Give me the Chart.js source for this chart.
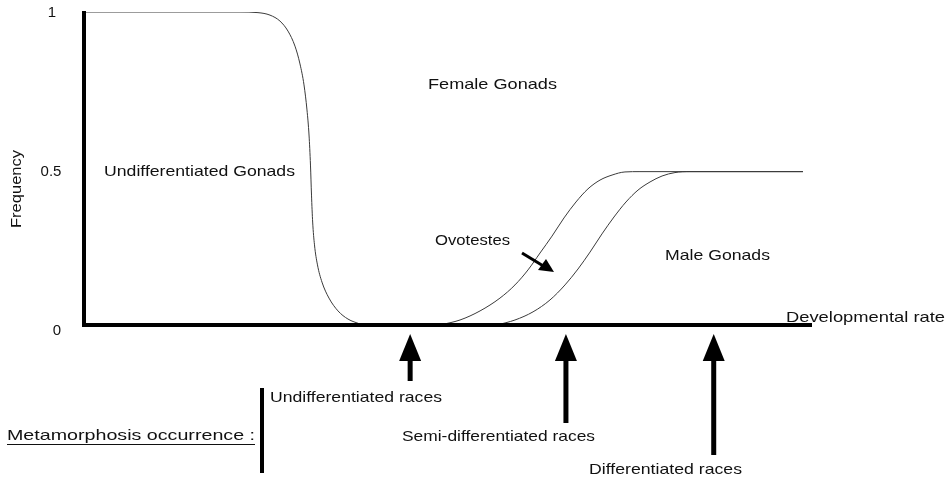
<!DOCTYPE html>
<html>
<head>
<meta charset="utf-8">
<script src="https://cdn.jsdelivr.net/npm/chart.js@4.4.1/dist/chart.umd.min.js"></script>
<style>
  html, body { margin: 0; padding: 0; background: #fff; }
  #wrap { width: 949px; height: 484px; }
</style>
</head>
<body>
<div id="wrap"><canvas id="chart" width="949" height="484"></canvas></div>
<script>
// developmental rate (0-100) and frequency values
const undiffX = [0, 21.43, 23.90, 25.55, 26.92, 28.02, 28.98, 29.67, 30.22, 30.63, 30.91, 31.11, 31.25, 31.41, 31.66, 32.07, 32.69, 33.65, 34.89, 36.26, 37.91];
const undiffY = [1, 1, 0.998, 0.990, 0.971, 0.939, 0.891, 0.834, 0.767, 0.687, 0.607, 0.511, 0.415, 0.329, 0.256, 0.192, 0.137, 0.086, 0.045, 0.019, 0.003];

const femaleX = [48.90, 51.65, 54.40, 57.14, 59.20, 60.99, 62.64, 64.29, 65.93, 67.58, 69.23, 70.88, 72.53, 74.31, 76.37, 98.76];
const femaleY = [0, 0.016, 0.045, 0.086, 0.128, 0.176, 0.230, 0.284, 0.342, 0.393, 0.435, 0.463, 0.479, 0.489, 0.490, 0.490];

const maleX = [56.73, 59.20, 61.68, 64.01, 66.07, 67.86, 69.51, 71.15, 72.80, 74.45, 76.10, 77.75, 79.40, 81.18, 83.24, 98.76];
const maleY = [0, 0.016, 0.042, 0.080, 0.128, 0.179, 0.233, 0.291, 0.345, 0.393, 0.431, 0.457, 0.476, 0.487, 0.490, 0.490];

const yTicks = [0, 0.5, 1];
const yTickLabels = ['0', '0.5', '1'];

const raceRates = [44.8, 66.2, 86.5];
const raceLabels = ['Undifferentiated races', 'Semi-differentiated races', 'Differentiated races'];

const toPoints = (xs, ys) => xs.map((x, i) => ({ x: x, y: ys[i] }));

const FONT = '15px "Liberation Sans", Arial, sans-serif';

// draw text stretched to the width it has in the picture
function label(ctx, text, x, y, width) {
  const w = ctx.measureText(text).width;
  ctx.save();
  ctx.translate(x, y);
  ctx.scale(width ? width / w : 1, 1);
  ctx.fillText(text, 0, 0);
  ctx.restore();
}

const annotations = {
  id: 'annotations',
  afterDatasetsDraw(chart) {
    const ctx = chart.ctx;
    const xs = chart.scales.x;
    const ys = chart.scales.y;
    const x0 = xs.getPixelForValue(0);
    const y0 = ys.getPixelForValue(0);
    const y1 = ys.getPixelForValue(1);
    ctx.save();

    // axes
    ctx.fillStyle = '#000';
    ctx.fillRect(x0 - 2, y1 - 1, 4, y0 - y1 + 3);
    ctx.fillRect(x0 - 2, y0 - 2, xs.getPixelForValue(100) - x0 + 2, 4);

    ctx.font = FONT;
    ctx.fillStyle = '#111';
    ctx.textBaseline = 'middle';
    ctx.textAlign = 'center';
    const tickX = [57, 51, 52];
    yTicks.forEach((v, i) => {
      ctx.fillText(yTickLabels[i], tickX[i], ys.getPixelForValue(v) + 6 - 5 * v);
    });

    // y title
    ctx.save();
    ctx.translate(17, 189);
    ctx.rotate(-Math.PI / 2);
    ctx.textAlign = 'left';
    label(ctx, 'Frequency', -39, 0, 78);
    ctx.restore();

    ctx.textAlign = 'left';
    label(ctx, 'Developmental rate', 786, 318, 159);
    label(ctx, 'Undifferentiated Gonads', 104, 172, 191);
    label(ctx, 'Female Gonads', 428, 85, 129);
    label(ctx, 'Ovotestes', 435, 241, 75);
    label(ctx, 'Male Gonads', 665, 256, 105);

    // ovotestes arrow
    ctx.fillStyle = '#000';
    ctx.strokeStyle = '#000';
    ctx.lineWidth = 3;
    ctx.beginPath();
    ctx.moveTo(522, 253);
    ctx.lineTo(545, 267);
    ctx.stroke();
    ctx.beginPath();
    ctx.moveTo(554, 272);
    ctx.lineTo(538, 270);
    ctx.lineTo(546, 259);
    ctx.closePath();
    ctx.fill();

    // race arrows
    const shaftEnd = [381, 423, 455];
    raceRates.forEach((r, i) => {
      const px = xs.getPixelForValue(r);
      const tip = y0 + 9;
      ctx.beginPath();
      ctx.moveTo(px, tip);
      ctx.lineTo(px + 11, tip + 27);
      ctx.lineTo(px - 11, tip + 27);
      ctx.closePath();
      ctx.fill();
      ctx.fillRect(px - 2.5, tip + 20, 5, shaftEnd[i] - tip - 20);
    });

    ctx.fillStyle = '#111';
    const labelPos = [[270, 398, 172], [402, 437, 193], [589, 470, 153]];
    raceLabels.forEach((t, i) => label(ctx, t, labelPos[i][0], labelPos[i][1], labelPos[i][2]));

    // metamorphosis caption
    label(ctx, 'Metamorphosis occurrence :', 7, 436, 248);
    ctx.fillRect(7, 444, 248, 1);
    ctx.fillStyle = '#000';
    ctx.fillRect(260, 388, 4, 85);

    ctx.restore();
  }
};

new Chart(document.getElementById('chart'), {
  type: 'line',
  data: {
    datasets: [
      { label: 'Undifferentiated', data: toPoints(undiffX, undiffY) },
      { label: 'Female', data: toPoints(femaleX, femaleY) },
      { label: 'Male', data: toPoints(maleX, maleY) }
    ].map(d => Object.assign(d, {
      borderColor: '#3a3a3a',
      borderWidth: 1,
      pointRadius: 0,
      fill: false,
      cubicInterpolationMode: 'monotone'
    }))
  },
  options: {
    responsive: false,
    animation: false,
    layout: { padding: { left: 84, top: 12, right: 137, bottom: 159 } },
    plugins: { legend: { display: false }, tooltip: { enabled: false } },
    scales: {
      x: { type: 'linear', min: 0, max: 100, display: false },
      y: { type: 'linear', min: 0, max: 1, display: false }
    }
  },
  plugins: [annotations]
});
</script>
</body>
</html>
